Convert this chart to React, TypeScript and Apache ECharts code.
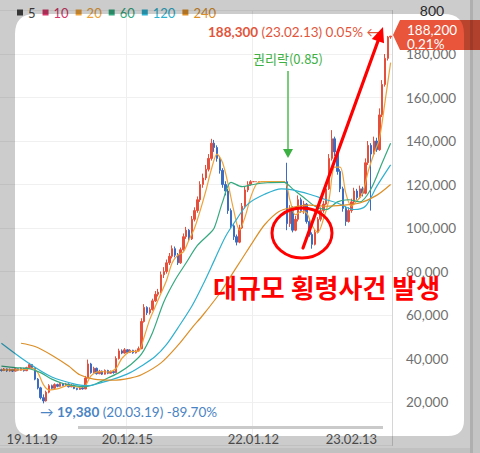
import React, { useEffect, useRef } from 'react';
import * as echarts from 'echarts';

const legendNames = ['5', '10', '20', '60', '120', '240'];
const legendColors = ['#444444', '#d6376a', '#eea33a', '#35a97f', '#2fb0cf', '#dc8f28'];

const xTickIdx = [11, 45, 90, 125];
const xTickLabels = ['19.11.19', '20.12.15', '22.01.12', '23.02.13'];

// [open, close, low, high]
const candles = [
  [34800, 34500, 34000, 35300], [34500, 35200, 34200, 35600], [35200, 34300, 33900, 35400], [34300, 35000, 34000, 35400],
  [35000, 34200, 33800, 35200], [34200, 35300, 34000, 35700], [35300, 34600, 34200, 35500], [34600, 35500, 34400, 35900],
  [35500, 34400, 34000, 35700], [34400, 35800, 34200, 36200], [35800, 37200, 35500, 38000], [37200, 35600, 35200, 37500],
  [35600, 30500, 30000, 35800], [30500, 26500, 25800, 31000], [26500, 22000, 21200, 27000], [22000, 20500, 19380, 23500],
  [20500, 24500, 20200, 25200], [24500, 27500, 24000, 28200], [27500, 26300, 25800, 28000], [26300, 28000, 26000, 28600],
  [28000, 27200, 26800, 28400], [27200, 28500, 27000, 29000], [28500, 27600, 27200, 28800], [27600, 28300, 27300, 28800],
  [28300, 27000, 26700, 28500], [27000, 27800, 26800, 28200], [27800, 26200, 25900, 28000], [26200, 25800, 25400, 26500],
  [25800, 26500, 25600, 26900], [26500, 26000, 25700, 26800], [26000, 31000, 25900, 32000], [31000, 37500, 30800, 39500],
  [37500, 33500, 33000, 38000], [33500, 35500, 33200, 36200], [35500, 33000, 32600, 35800], [33000, 34200, 32800, 34800],
  [34200, 32800, 32400, 34500], [32800, 34500, 32600, 35000], [34500, 33200, 32800, 34800], [33200, 34000, 33000, 34500],
  [34000, 33500, 33000, 34300], [33500, 40000, 33300, 41000], [40000, 43500, 39500, 44500], [43500, 42500, 42000, 44200],
  [42500, 44000, 42200, 44800], [44000, 42800, 42300, 44300], [42800, 43800, 42500, 44300], [43800, 42600, 42200, 44000],
  [42600, 43500, 42300, 44000], [43500, 44500, 43200, 45500], [44500, 57000, 44300, 58500], [57000, 63500, 56500, 65000],
  [63500, 61000, 60000, 64000], [61000, 62500, 60200, 63500], [62500, 66500, 62000, 67500], [66500, 69500, 66000, 71000],
  [69500, 70500, 68500, 72000], [70500, 78500, 70000, 80000], [78500, 80000, 77000, 82000], [80000, 84000, 79000, 85500],
  [84000, 87000, 83000, 88500], [87000, 90500, 86000, 92000], [90500, 87500, 86500, 91500], [87500, 84000, 83000, 88500],
  [84000, 90000, 83500, 91000], [90000, 96000, 89500, 97500], [96000, 99000, 95000, 100500], [99000, 95000, 94000, 99500],
  [95000, 104000, 94500, 105500], [104000, 108000, 103000, 109500], [108000, 113000, 107000, 114500], [113000, 120000, 112000, 121500],
  [120000, 123000, 118500, 125000], [123000, 127000, 122000, 129000], [127000, 132000, 126000, 134000], [132000, 139000, 131000, 141000],
  [139000, 137000, 135000, 140500], [137000, 132000, 130500, 138000], [132000, 126500, 125000, 133000], [126500, 120000, 118500, 127500],
  [120000, 117000, 115000, 121500], [117000, 108000, 106500, 118000], [108000, 101000, 99500, 109000], [101000, 96000, 94500, 102000],
  [96000, 93500, 92000, 97000], [93500, 100000, 93000, 101500], [100000, 110000, 99500, 111500], [110000, 117500, 109000, 119000],
  [117500, 120000, 116500, 121500], [120000, 121300, 119500, 122000],
  [121300, 121300, 121300, 121300], [121300, 121300, 121300, 121300], [121300, 121300, 121300, 121300], [121300, 121300, 121300, 121300],
  [121300, 121300, 121300, 121300], [121300, 121300, 121300, 121300], [121300, 121300, 121300, 121300], [121300, 121300, 121300, 121300],
  [121300, 121300, 121300, 121300], [121300, 121300, 121300, 121300], [121300, 121300, 121300, 121300], [121300, 121300, 121300, 121300],
  [121300, 102000, 99000, 130000], [102000, 109000, 100500, 110500], [109000, 99000, 98000, 110000], [99000, 104000, 98500, 105500],
  [104000, 113000, 103000, 115000], [113000, 108000, 107000, 114000], [108000, 111000, 106500, 112500], [111000, 103000, 102000, 111500],
  [103000, 97000, 96000, 104000], [97000, 92500, 90500, 98000], [92500, 98000, 92000, 99500], [98000, 104000, 97500, 105000],
  [104000, 108000, 103000, 109500], [108000, 111000, 107000, 112500], [111000, 118000, 110500, 119500], [118000, 132000, 117500, 134000],
  [132000, 141000, 131000, 145000], [141000, 135000, 133000, 142000], [135000, 126000, 124500, 136000], [126000, 118000, 116500, 127000],
  [118000, 109000, 107500, 119000], [109000, 103000, 101000, 110000], [103000, 108000, 102500, 109500], [108000, 112000, 107000, 113500],
  [112000, 117000, 111000, 118500], [117000, 114000, 113000, 118000], [114000, 118000, 113500, 119500], [118000, 116000, 114500, 119000],
  [116000, 130000, 115500, 132000], [130000, 138000, 129000, 140000], [138000, 134000, 108000, 139000], [134000, 140000, 133000, 142000],
  [140000, 136000, 135000, 141500], [136000, 152000, 135500, 155000], [152000, 166000, 151000, 168000], [166000, 178000, 165000, 180000],
  [178000, 187800, 177000, 188300], [187800, 188200, 187000, 188300],
];

const ma20 = [
  [0, 34800], [4, 34800], [8, 34900], [11, 35600], [13, 33500], [15, 28000], [17, 25500], [20, 26000], [24, 27600], [28, 26800],
  [30, 27500], [32, 32000], [35, 34000], [38, 33800], [41, 35500], [43, 40000], [46, 43200], [49, 43400], [51, 50000], [53, 58000],
  [55, 64000], [57, 70000], [59, 76000], [61, 84000], [63, 87500], [65, 89000], [67, 94500], [69, 100000], [71, 108000], [73, 117000],
  [75, 127000], [77, 134000], [79, 130000], [81, 120000], [83, 108000], [85, 99000], [87, 105000], [89, 114000], [91, 120000], [93, 121300],
  [101, 121300], [103, 113000], [105, 106000], [107, 107500], [109, 107000], [111, 101000], [113, 98000], [115, 104000], [117, 113000],
  [119, 128000], [121, 128000], [123, 116000], [125, 110000], [127, 112500], [129, 116000], [131, 126000], [133, 134000], [135, 141000],
  [137, 158000], [139, 176000],
];

const ma60 = [
  [0, 36500], [5, 35800], [10, 35300], [14, 33500], [18, 30500], [22, 28500], [26, 27500], [30, 27000], [34, 28500], [38, 31000],
  [42, 33500], [46, 37000], [50, 42000], [54, 52000], [58, 66000], [62, 76000], [66, 84000], [70, 92000], [74, 97000], [76, 100000],
  [79, 112000], [82, 121000], [86, 119000], [90, 120000], [95, 120800], [101, 121000], [104, 118000], [108, 114000], [112, 110000],
  [116, 108500], [120, 112000], [124, 113000], [128, 112000], [132, 118000], [136, 130000], [139, 139000],
];

const ma120 = [
  [0, 47000], [9, 38500], [18, 31500], [27, 28000], [31, 27500], [36, 29000], [40, 30500], [46, 33500], [50, 36500], [55, 41000],
  [59, 46500], [63, 54000], [68, 64000], [72, 74000], [76, 85000], [80, 96000], [84, 104000], [88, 111000], [94, 115500], [100, 118000],
  [104, 117500], [110, 115500], [116, 113000], [120, 111500], [126, 108500], [130, 110000], [134, 119000], [139, 129000],
];

const ma240 = [
  [7, 47000], [12, 45500], [18, 41500], [24, 36500], [28, 32500], [33, 30500], [40, 30000], [46, 31000], [50, 32500], [57, 38000],
  [63, 46000], [68, 54000], [72, 60000], [78, 70000], [82, 78000], [86, 86000], [90, 94000], [94, 101500], [99, 107500], [104, 109500],
  [110, 110500], [116, 110000], [122, 110500], [128, 111500], [134, 115000], [139, 120000],
];

const maSeriesData: Record<string, number[][]> = { '5': [], '10': [], '20': ma20, '60': ma60, '120': ma120, '240': ma240 };

const FRAME_D =
  'M0 0 L480 0 L480 453 L0 453 Z M35 14 Q15 14 15 34 L15 418 Q15 436 33 436 L448 436 Q464 436 464 420 L464 34 Q464 14 444 14 Z';

export default function App() {
  const ref = useRef<HTMLDivElement>(null);
  useEffect(() => {
    if (!ref.current) return;
    echarts.graphic.registerShape('frameHole', echarts.graphic.extendPath(FRAME_D, {}));
    const chart = echarts.init(ref.current, null, { renderer: 'svg' });
    const categories = candles.map((_, i) => String(i));
    const tickSet = new Set(xTickIdx);
    const labelFont = 'Lato, "DejaVu Sans", sans-serif';
    const cjk = '"Noto Sans CJK KR", sans-serif';

    const lineSeries = legendNames.map((name, k) => ({
      name,
      type: 'line',
      data: maSeriesData[name],
      smooth: 0.3,
      symbol: 'none',
      color: legendColors[k],
      lineStyle: { width: 1.2, color: legendColors[k] },
      z: 3,
    }));

    const option: any = {
      animation: false,
      backgroundColor: '#ffffff',
      textStyle: { fontFamily: labelFont },
      legend: {
        top: 1,
        left: 12,
        itemWidth: 6,
        itemHeight: 6,
        itemGap: 7,
        icon: 'rect',
        selectedMode: false,
        textStyle: { fontSize: 13, fontFamily: labelFont },
        data: legendNames.map((n, k) => ({ name: n, textStyle: { color: legendColors[k] } })),
      },
      grid: { left: 0, right: 88, top: 10.5, bottom: 7.5, outerBoundsMode: 'none' },
      xAxis: {
        type: 'category',
        data: categories,
        boundaryGap: true,
        offset: -20,
        axisLine: { show: false },
        axisTick: { show: false },
        axisLabel: {
          interval: (i: number) => tickSet.has(i),
          formatter: (_v: string, i: number) => {
            const k = xTickIdx.indexOf(i);
            return k >= 0 ? xTickLabels[k] : '';
          },
          color: '#5a5a5a',
          fontSize: 13,
          margin: 7,
          fontFamily: labelFont,
        },
        splitLine: {
          show: true,
          interval: (i: number) => i === 45 || i === 90,
          lineStyle: { color: '#eeeeee', width: 1 },
        },
      },
      yAxis: {
        type: 'value',
        position: 'right',
        min: 0,
        max: 200000,
        interval: 20000,
        axisLine: { show: true, lineStyle: { color: '#d6d6d6' } },
        axisTick: { show: false },
        axisLabel: {
          margin: 14,
          fontSize: 13.5,
          color: '#707070',
          fontFamily: labelFont,
          formatter: (v: number) => (v === 0 || v === 200000 ? '' : v.toLocaleString('en-US')),
        },
        splitLine: { show: true, lineStyle: { color: '#f0f0f0' } },
      },
      series: [
        {
          type: 'candlestick',
          data: candles,
          barWidth: '70%',
          itemStyle: { color: '#e4503c', color0: '#3b6cc2', borderColor: '#e4503c', borderColor0: '#3b6cc2', borderWidth: 1 },
          z: 2,
        },
        ...lineSeries,
      ],
      graphic: [
        { type: 'text', x: 432, y: 10, z: 40, silent: true,
          style: { text: '800', fontSize: 14, fontFamily: labelFont, fill: '#333333', align: 'center', verticalAlign: 'middle' } },
        { type: 'rect', shape: { x: 78, y: 426, width: 305, height: 3 }, style: { fill: '#cacaca' }, z: 40, silent: true },
        { type: 'text', x: 208, y: 32, z: 50, silent: true,
          style: {
            text: '{b|188,300}{n| (23.02.13) 0.05% ←}',
            verticalAlign: 'middle',
            rich: {
              b: { fontSize: 13.5, fontFamily: labelFont, fontWeight: 'bold', fill: '#e2553b' },
              n: { fontSize: 13.5, fontFamily: labelFont, fill: '#e2553b' },
            },
          } },
        { type: 'polygon', z: 50, silent: true,
          shape: { points: [[393, 35], [400, 20], [480, 20], [480, 50], [400, 50]] }, style: { fill: '#e8553a' } },
        { type: 'text', x: 407, y: 36.5, z: 51, silent: true,
          style: { text: '188,200\n0.21%', fontSize: 13.5, lineHeight: 14, fontFamily: labelFont, fill: '#ffffff', verticalAlign: 'middle' } },
        { type: 'text', x: 288, y: 58, z: 50, silent: true,
          style: { text: '권리락(0.85)', fontSize: 13, fontFamily: cjk, fill: '#3cb043', align: 'center', verticalAlign: 'middle' } },
        { type: 'line', z: 50, silent: true, shape: { x1: 288, y1: 71, x2: 288, y2: 150 }, style: { stroke: '#4cbb4c', lineWidth: 1.5 } },
        { type: 'polygon', z: 50, silent: true, shape: { points: [[283, 149], [293, 149], [288, 158]] }, style: { fill: '#3cb043' } },
        { type: 'text', x: 40, y: 412, z: 50, silent: true,
          style: {
            text: '{n|→ }{b|19,380}{n| (20.03.19) -89.70%}',
            verticalAlign: 'middle',
            rich: {
              b: { fontSize: 13.5, fontFamily: labelFont, fontWeight: 'bold', fill: '#4a84c4' },
              n: { fontSize: 13.5, fontFamily: labelFont, fill: '#4a84c4' },
            },
          } },
        { type: 'ellipse', z: 60, silent: true, shape: { cx: 302, cy: 233, rx: 30, ry: 25 },
          style: { fill: 'none', stroke: '#ff0000', lineWidth: 3 } },
        { type: 'line', z: 60, silent: true, shape: { x1: 303, y1: 248, x2: 378, y2: 41 },
          style: { stroke: '#ff0000', lineWidth: 3.2, lineCap: 'round' } },
        { type: 'polygon', z: 60, silent: true, shape: { points: [[383, 27], [384, 43.3], [371.8, 38.9]] }, style: { fill: '#ff0000' } },
        { type: 'text', x: 213, y: 286, z: 60, silent: true,
          style: { text: '대규모 횡령사건 발생', fontSize: 26, fontWeight: 'bold', fontFamily: cjk, fill: '#ff0000', verticalAlign: 'middle' } },
        { type: 'frameHole', x: 0, y: 0, z: 100, silent: true, style: { fill: 'rgba(0,0,0,0.2)' } },
        { type: 'rect', z: 101, silent: true, shape: { x: 470, y: 0, width: 3, height: 453 }, style: { fill: 'rgba(0,0,0,0.14)' } },
        { type: 'rect', z: 101, silent: true, shape: { x: 473, y: 0, width: 7, height: 453 }, style: { fill: 'rgba(0,0,0,0.04)' } },
        { type: 'rect', z: 101, silent: true, shape: { x: 0, y: 448, width: 470, height: 5 }, style: { fill: 'rgba(0,0,0,0.05)' } },
      ],
    };
    chart.setOption(option);
    return () => chart.dispose();
  }, []);
  return <div ref={ref} style={{ position: 'fixed', left: 0, top: 0, width: 480, height: 453 }} />;
}
